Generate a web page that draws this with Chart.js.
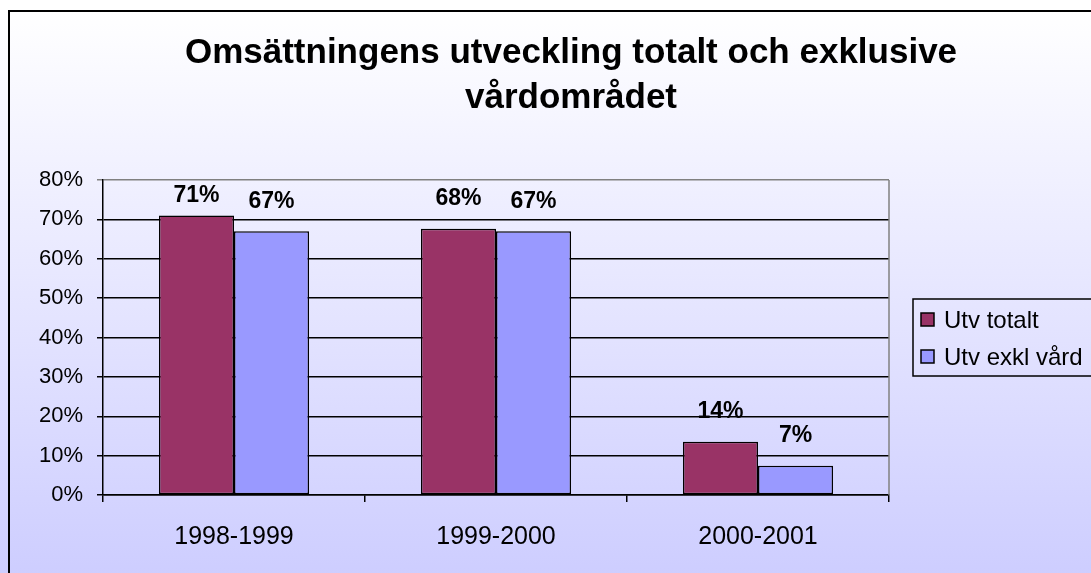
<!DOCTYPE html>
<html>
<head>
<meta charset="utf-8">
<script src="https://cdn.jsdelivr.net/npm/chart.js@4"></script>
<style>
  body { margin: 0; background: #fff; }
  #wrap { width: 1091px; height: 573px; }
</style>
</head>
<body>
<div id="wrap"><canvas id="myChart" width="1091" height="573"></canvas></div>
<script>
const periods = ["1998-1999", "1999-2000", "2000-2001"];
const utvTotalt = [71, 67.6, 13.5];
const utvExklVard = [67, 67, 7.4];
const seriesNames = ["Utv totalt", "Utv exkl vård"];
const titleLines = ["Omsättningens utveckling totalt och exklusive", "vårdområdet"];
const yTicks = [0, 10, 20, 30, 40, 50, 60, 70, 80];

const FONT = "'Liberation Sans', Arial, sans-serif";

// gradient background + frame
const backgroundPlugin = {
  id: "bg",
  beforeDraw: (chart) => {
    const ctx = chart.ctx;
    ctx.save();
    const grad = ctx.createLinearGradient(0, 11, 0, 590);
    grad.addColorStop(0, "#ffffff");
    grad.addColorStop(1, "#ccccff");
    ctx.fillStyle = grad;
    ctx.fillRect(0, 0, chart.width, chart.height);
    ctx.strokeStyle = "#000";
    ctx.lineWidth = 2;
    ctx.strokeRect(9, 11, 1200, 700);
    ctx.restore();
  },
  beforeDatasetsDraw: (chart) => {
    const ctx = chart.ctx;
    const a = chart.chartArea;
    ctx.save();
    ctx.strokeStyle = "#808080";
    ctx.lineWidth = 1.5;
    ctx.beginPath();
    ctx.moveTo(a.right, a.top);
    ctx.lineTo(a.right, a.bottom);
    ctx.stroke();
    ctx.restore();
  },
};

// title, value labels and boxed legend
const textPlugin = {
  id: "texts",
  afterDraw: (chart) => {
    const ctx = chart.ctx;
    const a = chart.chartArea;
    ctx.save();
    ctx.fillStyle = "#000";
    ctx.textAlign = "center";
    ctx.textBaseline = "middle";

    ctx.font = "bold 35px " + FONT;
    titleLines.forEach((line, i) => {
      ctx.fillText(line, 571, 53 + i * 45);
    });

    ctx.font = "bold 23px " + FONT;
    chart.data.datasets.forEach((ds, di) => {
      const meta = chart.getDatasetMeta(di);
      meta.data.forEach((el, i) => {
        const y = Math.max(el.y - 30, a.top + 16);
        ctx.fillText(Math.round(ds.data[i]) + "%", el.x, y);
      });
    });

    // legend
    ctx.strokeStyle = "#000";
    ctx.lineWidth = 1.5;
    ctx.strokeRect(913, 299, 220, 77);
    ctx.textAlign = "left";
    ctx.font = "24px " + FONT;
    chart.data.datasets.forEach((ds, di) => {
      const cy = 320 + di * 37;
      ctx.fillStyle = ds.backgroundColor;
      ctx.fillRect(921, cy - 7, 13, 13);
      ctx.strokeRect(921, cy - 7, 13, 13);
      ctx.fillStyle = "#000";
      ctx.fillText(ds.label, 944, cy + 1);
    });
    ctx.restore();
  },
};

const ctx = document.getElementById("myChart").getContext("2d");
const myChart = new Chart(ctx, {
  type: "bar",
  data: {
    labels: periods,
    datasets: [
      {
        label: seriesNames[0],
        data: utvTotalt,
        backgroundColor: "#993366",
        borderColor: "#000",
        borderWidth: 1.5,
        borderSkipped: false,
      },
      {
        label: seriesNames[1],
        data: utvExklVard,
        backgroundColor: "#9999ff",
        borderColor: "#000",
        borderWidth: 1.5,
        borderSkipped: false,
      },
    ],
  },
  options: {
    responsive: false,
    animation: false,
    layout: { padding: { left: 0, top: 180, right: 202, bottom: 0 } },
    datasets: { bar: { categoryPercentage: 0.573, barPercentage: 1 } },
    plugins: {
      legend: { display: false },
      title: { display: false },
      tooltip: { enabled: false },
    },
    scales: {
      x: {
        afterFit: (s) => { s.height = 78; },
        grid: {
          offset: true,
          drawOnChartArea: false,
          tickLength: 7,
          color: "#000",
          lineWidth: 1.5,
        },
        border: { color: "#000", width: 1.5 },
        ticks: {
          padding: 20,
          color: "#000",
          font: { family: FONT, size: 25 },
        },
      },
      y: {
        min: 0,
        max: 80,
        afterFit: (s) => { s.width = 103; },
        afterBuildTicks: (s) => { s.ticks = yTicks.map((v) => ({ value: v })); },
        grid: {
          tickLength: 6,
          lineWidth: 1.5,
          color: (c) => (c.tick && c.tick.value === 80 ? "#808080" : "#000"),
        },
        border: { color: "#000", width: 1.5 },
        ticks: {
          padding: 14,
          color: "#000",
          font: { family: FONT, size: 22 },
          callback: (v) => v + "%",
        },
      },
    },
  },
  plugins: [backgroundPlugin, textPlugin],
});
</script>
</body>
</html>
